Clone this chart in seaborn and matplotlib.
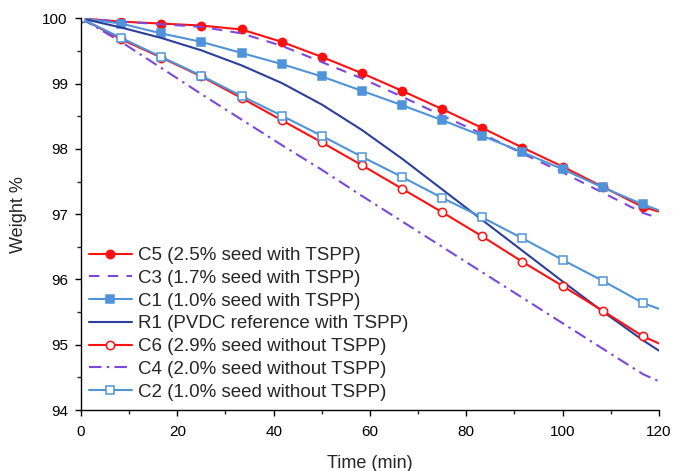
"""TGA weight loss curves of PVDC latex samples, seed / TSPP series."""
import matplotlib
matplotlib.use("Agg")
import matplotlib.pyplot as plt
from matplotlib.ticker import MultipleLocator
import pandas as pd
import seaborn as sns

# time axis (min); markers every 8.33 min, curve ends at 120 min
TIME = [0, 8.33, 16.67, 25, 33.33, 41.67, 50, 58.33, 66.67, 75,
        83.33, 91.67, 100, 108.33, 116.67, 120]

C5 = [100, 99.95, 99.92, 99.89, 99.83, 99.64, 99.41, 99.16, 98.89, 98.61,
      98.32, 98.02, 97.73, 97.42, 97.11, 97.04]
C3 = [100, 99.95, 99.91, 99.87, 99.77, 99.58, 99.33, 99.08, 98.80, 98.51,
      98.23, 97.93, 97.64, 97.33, 97.02, 96.94]
C1 = [100, 99.92, 99.77, 99.64, 99.47, 99.30, 99.11, 98.89, 98.67, 98.44,
      98.20, 97.95, 97.69, 97.41, 97.15, 97.06]
R1 = [100, 99.86, 99.70, 99.51, 99.28, 99.01, 98.68, 98.29, 97.85, 97.38,
      96.91, 96.44, 95.97, 95.51, 95.07, 94.91]
C6 = [100, 99.68, 99.40, 99.11, 98.78, 98.44, 98.10, 97.75, 97.39, 97.03,
      96.66, 96.27, 95.90, 95.52, 95.13, 95.02]
C4 = [100, 99.64, 99.24, 98.84, 98.45, 98.06, 97.68, 97.28, 96.89, 96.50,
      96.11, 95.72, 95.33, 94.94, 94.55, 94.44]
C2 = [100, 99.70, 99.41, 99.12, 98.81, 98.51, 98.20, 97.88, 97.57, 97.25,
      96.95, 96.63, 96.30, 95.98, 95.64, 95.55]

RED = "#ff1010"
PURPLE = "#7c48dc"
LIGHT = "#4f94da"
NAVY = "#2b3f9c"

# label, values, colour, linestyle, marker, filled
SERIES = [
    ("C5 (2.5% seed with TSPP)", C5, RED, "-", "o", True),
    ("C3 (1.7% seed with TSPP)", C3, PURPLE, (0, (5, 4)), None, True),
    ("C1 (1.0% seed with TSPP)", C1, LIGHT, "-", "s", True),
    ("R1 (PVDC reference with TSPP)", R1, NAVY, "-", None, True),
    ("C6 (2.9% seed without TSPP)", C6, RED, "-", "o", False),
    ("C4 (2.0% seed without TSPP)", C4, PURPLE, (0, (6, 2.5, 1.2, 2.5)), None, True),
    ("C2 (1.0% seed without TSPP)", C2, LIGHT, "-", "s", False),
]


def main() -> None:
    sns.set_style("ticks")
    plt.rcParams["font.family"] = ["Liberation Sans", "DejaVu Sans"]
    plt.rcParams["xtick.direction"] = "out"
    plt.rcParams["ytick.direction"] = "out"

    fig = plt.figure(figsize=(6.73, 4.71), dpi=100)
    ax = fig.add_axes([0.1204, 0.1295, 0.8586, 0.8315])

    for label, vals, color, ls, marker, filled in SERIES:
        df = pd.DataFrame({"time": TIME, "weight": vals})
        kws = dict(color=color, linestyle=ls, linewidth=1.5, label=label)
        if marker:
            kws.update(marker=marker, markersize=6, markevery=list(range(15)),
                       markeredgecolor=color, markeredgewidth=1.1,
                       markerfacecolor=color if filled else "white")
        sns.lineplot(data=df, x="time", y="weight", ax=ax, sort=False,
                     estimator=None, **kws)

    ax.set_xlim(0, 120)
    ax.set_ylim(94, 100)
    ax.xaxis.set_major_locator(MultipleLocator(20))
    ax.xaxis.set_minor_locator(MultipleLocator(10))
    ax.yaxis.set_major_locator(MultipleLocator(1))
    ax.yaxis.set_minor_locator(MultipleLocator(0.5))
    ax.tick_params(which="major", length=4.5, width=1, pad=5, labelsize=11,
                   colors="black")
    ax.tick_params(axis="x", which="major", pad=6.5)
    ax.tick_params(which="minor", length=3, width=1)
    for s in ("left", "bottom"):
        ax.spines[s].set_color("black")
        ax.spines[s].set_linewidth(1)
    sns.despine(ax=ax)
    ax.set_xlabel("Time (min)", fontsize=13, labelpad=11)
    ax.set_ylabel("Weight %", fontsize=13, labelpad=11)
    ax.grid(False)

    ax.legend(loc="upper left", bbox_to_anchor=(-0.006, 0.445), frameon=False,
              fontsize=13.5, handlelength=2.3, labelspacing=0.3,
              handletextpad=0.3, borderaxespad=0.2)

    fig.savefig("out.png", dpi=100)
    plt.close(fig)


if __name__ == "__main__":
    main()
